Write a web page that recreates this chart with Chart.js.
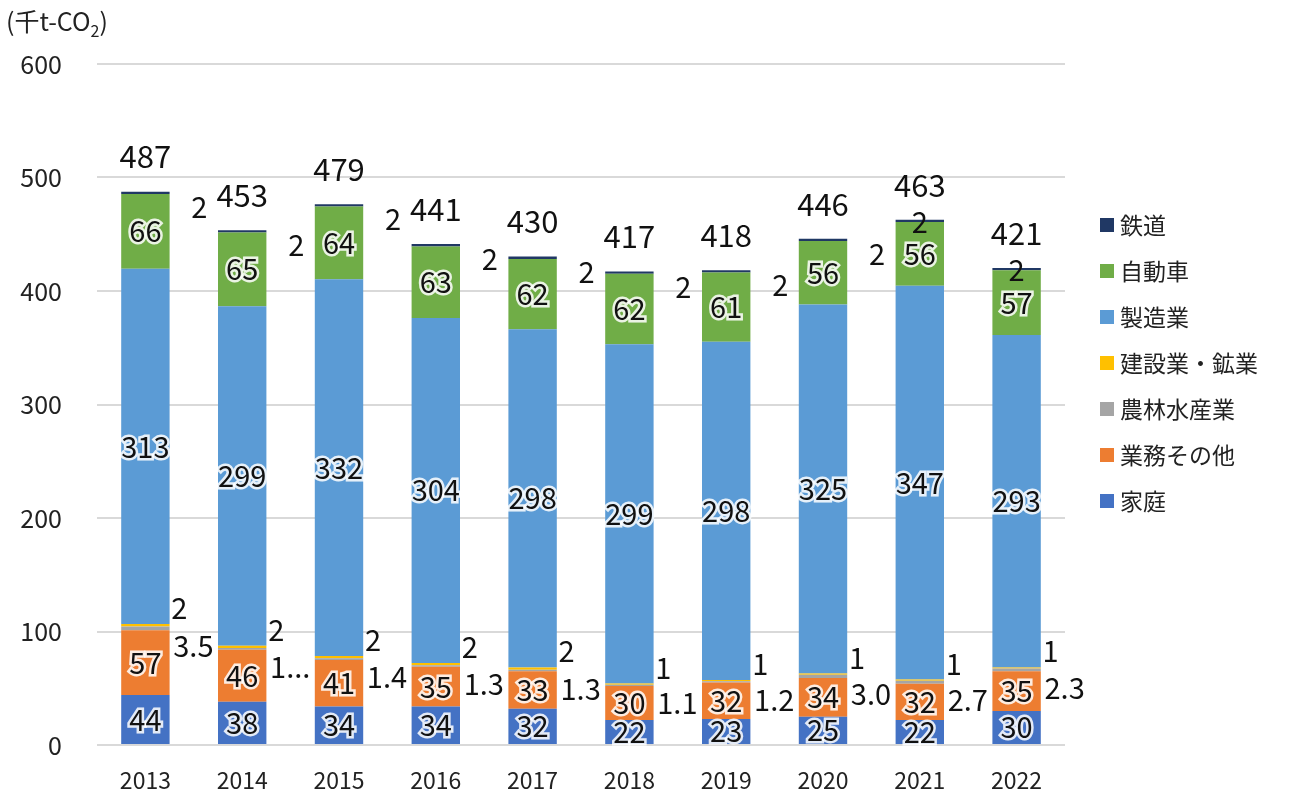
<!DOCTYPE html>
<html>
<head>
<meta charset="utf-8">
<script src="https://cdn.jsdelivr.net/npm/chart.js@4.4.0/dist/chart.umd.min.js"></script>
<style>
  html, body { margin: 0; padding: 0; background: #fff; }
  #wrap { position: relative; width: 1290px; height: 796px; }
  #unit { position: absolute; left: 6px; top: 2px; font: 25px "Noto Sans CJK JP"; color: #222; }
  #unit sub { font-size: 16px; }
</style>
</head>
<body>
<div id="wrap">
  <div id="unit">(千t-CO<sub>2</sub>)</div>
  <canvas id="c" width="1290" height="796"></canvas>
</div>
<script>
const years = ["2013", "2014", "2015", "2016", "2017", "2018", "2019", "2020", "2021", "2022"];

// values (千t-CO2)
const household = [44, 38, 34, 34, 32, 22, 23, 25, 22, 30];
const business = [57, 46, 41, 35, 33, 30, 32, 34, 32, 35];
const farming = [3.5, 1.5, 1.4, 1.3, 1.3, 1.1, 1.2, 3.0, 2.7, 2.3];
const construction = [2, 2, 2, 2, 2, 1, 1, 1, 1, 1];
const manufacturing = [313, 299, 332, 304, 298, 299, 298, 325, 347, 293];
const cars = [66, 65, 64, 63, 62, 62, 61, 56, 56, 57];
const railway = [2, 2, 2, 2, 2, 2, 2, 2, 2, 2];
const totals = [487, 453, 479, 441, 430, 417, 418, 446, 463, 421];

// label text as printed on the chart
const farmingText = ["3.5", "1...", "1.4", "1.3", "1.3", "1.1", "1.2", "3.0", "2.7", "2.3"];

const FONT = '"Noto Sans CJK JP", "Noto Sans", sans-serif';
Chart.defaults.font.family = FONT;

// mode: where the value label goes
const datasets = [
  { label: "家庭", data: household, backgroundColor: "#4472C4", mode: "in" },
  { label: "業務その他", data: business, backgroundColor: "#ED7D31", mode: "in" },
  { label: "農林水産業", data: farming, backgroundColor: "#A5A5A5", mode: "farm", texts: farmingText },
  { label: "建設業・鉱業", data: construction, backgroundColor: "#FFC000", mode: "build" },
  { label: "製造業", data: manufacturing, backgroundColor: "#5B9BD5", mode: "in" },
  { label: "自動車", data: cars, backgroundColor: "#70AD47", mode: "in" },
  { label: "鉄道", data: railway, backgroundColor: "#203864", mode: "rail" }
];

function drawText(ctx, txt, x, y, halo) {
  if (halo) {
    ctx.lineWidth = 5;
    ctx.strokeStyle = "rgba(255,255,255,0.85)";
    ctx.strokeText(txt, x, y);
  }
  ctx.fillStyle = "#111";
  ctx.fillText(txt, x, y);
}

const labelPlugin = {
  id: "stackLabels",
  afterDatasetsDraw(chart) {
    const ctx = chart.ctx;
    ctx.save();
    ctx.textAlign = "center";
    ctx.textBaseline = "middle";
    ctx.font = "29px " + FONT;
    chart.data.datasets.forEach((ds, di) => {
      const meta = chart.getDatasetMeta(di);
      meta.data.forEach((bar, i) => {
        const txt = ds.texts ? ds.texts[i] : String(ds.data[i]);
        if (ds.mode === "in") {
          drawText(ctx, txt, bar.x, (bar.y + bar.base) / 2, true);
        } else if (ds.mode === "farm") {
          drawText(ctx, txt, bar.x + 48, (bar.y + bar.base) / 2 + 18, false);
        } else if (ds.mode === "build") {
          drawText(ctx, txt, bar.x + 34, bar.y - 16, false);
        } else if (ds.mode === "rail") {
          if (i >= 8) drawText(ctx, txt, bar.x, bar.y + 2, false);
          else drawText(ctx, txt, bar.x + 54, bar.y + 15, false);
        }
      });
    });
    // totals above each stack
    ctx.font = "31px " + FONT;
    const top = chart.getDatasetMeta(chart.data.datasets.length - 1);
    top.data.forEach((bar, i) => {
      drawText(ctx, String(totals[i]), bar.x, bar.y - 35, false);
    });
    ctx.restore();
  }
};

const legendPlugin = {
  id: "sideLegend",
  afterDraw(chart) {
    const ctx = chart.ctx;
    ctx.save();
    ctx.font = "23px " + FONT;
    ctx.textAlign = "left";
    ctx.textBaseline = "middle";
    const items = chart.data.datasets.slice().reverse();
    items.forEach((ds, k) => {
      const y = 225 + k * 46;
      ctx.fillStyle = ds.backgroundColor;
      ctx.fillRect(1100, y - 7, 14, 14);
      ctx.fillStyle = "#222";
      ctx.fillText(ds.label, 1120, y);
    });
    ctx.restore();
  }
};

new Chart(document.getElementById("c"), {
  type: "bar",
  data: { labels: years, datasets: datasets },
  options: {
    responsive: false,
    animation: false,
    categoryPercentage: 1,
    barPercentage: 0.5,
    layout: { padding: { left: 0, right: 225, top: 64, bottom: 0 } },
    plugins: { legend: { display: false }, tooltip: { enabled: false } },
    scales: {
      x: {
        stacked: true,
        grid: { display: false, drawTicks: false },
        border: { display: false },
        ticks: { color: "#222", font: { size: 23 }, padding: 21 },
        afterFit(s) { s.height = 51; }
      },
      y: {
        stacked: true,
        min: 0,
        max: 600,
        ticks: { stepSize: 100, color: "#222", font: { size: 25 }, padding: 35 },
        grid: { color: "#d9d9d9", lineWidth: 2, drawTicks: false },
        border: { display: false },
        afterFit(s) { s.width = 97; }
      }
    }
  },
  plugins: [labelPlugin, legendPlugin]
});
</script>
</body>
</html>
